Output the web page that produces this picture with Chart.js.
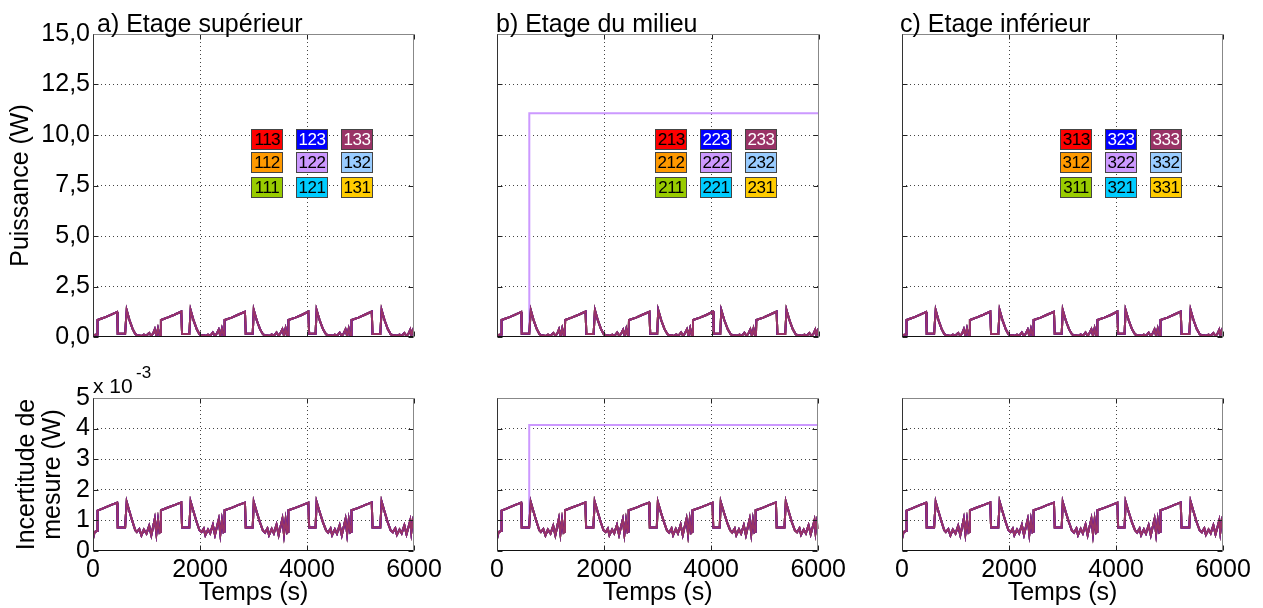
<!DOCTYPE html>
<html><head><meta charset="utf-8">
<script src="https://cdn.jsdelivr.net/npm/chart.js@4"></script>
<style>
body{margin:0;background:#fff;width:1263px;height:608px;position:relative;overflow:hidden;font-family:"Liberation Sans",Arial,sans-serif;}
canvas{position:absolute;}
.ttl{position:absolute;font-size:25px;line-height:25px;white-space:nowrap;color:#000;}
.box{position:absolute;width:30px;height:19px;border:1px solid #444;font-size:17px;line-height:19px;text-align:center;letter-spacing:-0.5px;}
.txt{position:absolute;white-space:nowrap;color:#000;}
</style></head>
<body>
<script>
// ---------- DATA ----------
const timeS = [0,30,75,85,200,320,450,462,600,630,680,740,790,820,865,905,950,1000,1050,1090,1125,1155,1185,1215,1245,1262,
1270,1400,1520,1650,1665,1800,1825,1880,1940,1990,2030,2070,2100,2150,2190,2240,2280,2320,2350,2380,2410,2440,2452,
2460,2590,2710,2840,2855,2985,3005,3060,3120,3175,3215,3260,3290,3340,3380,3430,3470,3510,3540,3570,3600,3630,3645,
3652,3780,3900,4025,4040,4160,4180,4235,4300,4355,4395,4440,4470,4520,4560,4610,4650,4690,4720,4750,4780,4810,4825,
4832,4960,5080,5210,5225,5370,5395,5450,5510,5565,5605,5650,5680,5730,5770,5820,5860,5900,5930,5950,5975,6000];
// Puissance (W)
const puissanceW = [0.04,0.10,0.12,0.84,0.95,1.08,1.24,0.16,0.16,1.32,0.85,0.40,0.15,0.10,0.08,0.05,0.12,0.07,0.20,0.06,0.18,0.38,0.05,0.42,0.08,0.10,
0.84,0.97,1.10,1.26,0.15,0.15,1.33,0.82,0.38,0.14,0.08,0.10,0.05,0.12,0.06,0.22,0.05,0.20,0.36,0.05,0.40,0.08,0.10,
0.84,0.96,1.10,1.25,0.16,0.16,1.33,0.83,0.40,0.14,0.07,0.10,0.05,0.13,0.06,0.22,0.05,0.22,0.38,0.06,0.43,0.08,0.10,
0.84,0.96,1.09,1.26,0.16,0.16,1.33,0.84,0.38,0.14,0.08,0.10,0.05,0.12,0.06,0.21,0.05,0.20,0.37,0.05,0.41,0.08,0.10,
0.84,0.96,1.10,1.26,0.15,0.15,1.33,0.83,0.39,0.14,0.08,0.10,0.05,0.12,0.06,0.20,0.05,0.18,0.36,0.08,0.30,0.10];
// Incertitude de mesure (x 10^-3 W)
const incertitudeMilliW = [0.40,0.62,0.65,1.32,1.40,1.49,1.58,0.77,0.77,1.60,1.30,0.95,0.68,0.62,0.72,0.51,0.70,0.57,0.82,0.52,0.80,1.05,0.57,1.02,0.60,0.62,
1.33,1.42,1.50,1.59,0.77,0.77,1.61,1.28,0.93,0.68,0.62,0.73,0.52,0.70,0.58,0.85,0.53,0.82,1.03,0.55,1.00,0.62,0.64,
1.33,1.41,1.50,1.58,0.77,0.77,1.60,1.27,0.94,0.67,0.60,0.74,0.52,0.72,0.58,0.86,0.52,0.83,1.05,0.55,1.02,0.60,0.63,
1.33,1.41,1.49,1.58,0.77,0.77,1.60,1.28,0.93,0.68,0.60,0.73,0.52,0.71,0.57,0.84,0.52,0.82,1.04,0.56,1.01,0.61,0.63,
1.33,1.41,1.50,1.59,0.77,0.77,1.61,1.28,0.93,0.67,0.61,0.74,0.53,0.70,0.58,0.84,0.55,0.80,1.00,0.62,0.95,0.72];
// Capteur 222 (étage du milieu) : saut à ~600 s
const time222 = [0,30,75,85,200,320,450,462,598,602,6000];
const puissance222 = [0.04,0.10,0.12,0.84,0.95,1.08,1.24,0.16,0.16,11.08,11.08];
const incertitude222 = [0.40,0.62,0.65,1.32,1.40,1.49,1.58,0.77,0.77,4.12,4.12];

const xTicks = [0,2000,4000,6000];
const xTickLabels = ['0','2000','4000','6000'];
const yTicksP = [0,2.5,5,7.5,10,12.5,15];
const yTickLabelsP = ['0,0','2,5','5,0','7,5','10,0','12,5','15,0'];
const yTicksI = [0,1,2,3,4,5];
const yTickLabelsI = ['0','1','2','3','4','5'];

const stages = ['1','2','3'];
const panelTitles = ['a) Etage supérieur','b) Etage du milieu','c) Etage inférieur'];
const seriesCodes = ['33','23','13','32','22','12','31','21','11']; // first drawn on top
const seriesColors = {'13':'#FF0000','23':'#0000FF','33':'#993366','12':'#FF9900','22':'#CC99FF','32':'#99CCFF','11':'#99CC00','21':'#00CCFF','31':'#FFCC00'};
const legendGrid = [['13','23','33'],['12','22','32'],['11','21','31']];
const whiteText = ['23','33'];

// ---------- LAYOUT ----------
const FONT = '"Liberation Sans", Arial, sans-serif';
Chart.defaults.font.family = FONT;
Chart.defaults.color = '#000';
const plotX = [[93,414],[497,819],[902,1223]];
const canvasX = [[0,460],[470,380],[880,383]];
const rows = [{cy:0,ch:360,top:34,bottom:337},{cy:350,ch:258,top:398,bottom:551}];

function pts(xs, ys){ return xs.map((x,i)=>({x:x,y:ys[i]})); }

const framePlugin = {
  id:'frame',
  afterDatasetsDraw(chart){
    const {ctx, chartArea:a, scales:{x,y}} = chart;
    const L = Math.round(a.left)+0.5, R = Math.round(a.right)-0.5, T = Math.round(a.top)+0.5, B = Math.round(a.bottom)-0.5;
    ctx.save();
    ctx.lineWidth = 1;
    ctx.strokeStyle = '#222';
    ctx.beginPath();
    x.ticks.forEach(t=>{ const p=Math.round(x.getPixelForValue(t.value))+0.5; ctx.moveTo(p,B); ctx.lineTo(p,B-5); ctx.moveTo(p,T); ctx.lineTo(p,T+5); });
    y.ticks.forEach(t=>{ const p=Math.round(y.getPixelForValue(t.value))+0.5; ctx.moveTo(L,p); ctx.lineTo(L+5,p); ctx.moveTo(R,p); ctx.lineTo(R-5,p); });
    ctx.stroke();
    ctx.strokeStyle = '#888';
    ctx.beginPath(); ctx.moveTo(L,T); ctx.lineTo(R,T); ctx.lineTo(R,B); ctx.stroke();
    ctx.strokeStyle = '#333';
    ctx.beginPath(); ctx.moveTo(L,T); ctx.lineTo(L,B); ctx.stroke();
    ctx.strokeStyle = '#111';
    ctx.beginPath(); ctx.moveTo(L,B); ctx.lineTo(R,B); ctx.stroke();
    ctx.restore();
  }
};

function gridColor(min,max){
  return c => (c.tick && (c.tick.value===min || c.tick.value===max)) ? 'rgba(0,0,0,0)' : '#444';
}

function makePanel(col,rowIdx){
  const row = rows[rowIdx];
  const [cx,cw] = canvasX[col];
  const [pl,pr] = plotX[col];
  const cv = document.createElement('canvas');
  cv.width = cw; cv.height = row.ch;
  cv.style.left = cx+'px'; cv.style.top = row.cy+'px';
  cv.style.width = cw+'px'; cv.style.height = row.ch+'px';
  document.body.appendChild(cv);
  const stage = stages[col];
  const isTop = rowIdx===0;
  const yTicks = isTop ? yTicksP : yTicksI;
  const yLabels = isTop ? yTickLabelsP : yTickLabelsI;
  const yMax = yTicks[yTicks.length-1];
  const datasets = seriesCodes.map(code=>{
    const name = stage+code;
    let data;
    if (name==='222') data = pts(time222, isTop ? puissance222 : incertitude222);
    else data = pts(timeS, isTop ? puissanceW : incertitudeMilliW);
    return {label:name, data, borderColor:seriesColors[code], backgroundColor:seriesColors[code],
      borderWidth:2, pointRadius:0, fill:false, tension:0};
  });
  const wy = pl - cx;
  const hx = row.cy + row.ch - row.bottom;
  new Chart(cv,{
    type:'line',
    data:{datasets},
    plugins:[framePlugin],
    options:{
      responsive:false, animation:false, devicePixelRatio:1,
      layout:{autoPadding:false, padding:{left:0, top:row.top-row.cy, right:cx+cw-pr, bottom:0}},
      plugins:{legend:{display:false}, tooltip:{enabled:false}, title:{display:false}},
      scales:{
        x:{type:'linear', min:0, max:6000,
          afterBuildTicks:s=>{ s.ticks = xTicks.map(v=>({value:v})); },
          afterFit:s=>{ s.height = hx; },
          ticks:{display:!isTop, autoSkip:false, maxRotation:0, padding:4, font:{size:25},
            callback:(v)=>xTickLabels[xTicks.indexOf(v)]},
          grid:{drawTicks:false, color:gridColor(0,6000), lineWidth:1},
          border:{display:false, dash:[1,3]},
          title:{display:!isTop, text:'Temps (s)', font:{size:25, lineHeight:1.2}, padding:{top:0,bottom:0}}
        },
        y:{type:'linear', min:0, max:yMax,
          afterBuildTicks:s=>{ s.ticks = yTicks.map(v=>({value:v})); },
          afterFit:s=>{ s.width = wy; },
          ticks:{display:col===0, autoSkip:false, padding:3, font:{size:25},
            callback:(v)=>yLabels[yTicks.indexOf(v)]},
          grid:{drawTicks:false, color:gridColor(0,yMax), lineWidth:1},
          border:{display:false, dash:[1,3]},
          title: col===0 ? (isTop
            ? {display:true, text:'Puissance (W)', font:{size:25, lineHeight:1.2}, padding:{top:6,bottom:0}}
            : {display:true, text:['Incertitude de','mesure (W)'], font:{size:25, lineHeight:1.04}, padding:{top:14,bottom:0}})
            : {display:false}
        }
      }
    }
  });
}

for (let r=0;r<2;r++) for (let c=0;c<3;c++) makePanel(c,r);

// Panel titles
const titleLeft = [97,496,900];
panelTitles.forEach((t,i)=>{
  const d=document.createElement('div'); d.className='ttl'; d.textContent=t;
  d.style.left=titleLeft[i]+'px'; d.style.top='11px'; document.body.appendChild(d);
});
// Sensor legend boxes
const rowTops = [129,152,177];
stages.forEach((s,col)=>{
  legendGrid.forEach((rowCodes,ri)=>{
    rowCodes.forEach((code,ci)=>{
      const b=document.createElement('div'); b.className='box';
      b.textContent = s+code;
      b.style.background = seriesColors[code];
      b.style.color = whiteText.includes(code) ? '#fff' : '#000';
      b.style.left = (plotX[col][0]+158+ci*45)+'px';
      b.style.top = rowTops[ri]+'px';
      document.body.appendChild(b);
    });
  });
});
// exponent label
const e1=document.createElement('div'); e1.className='txt'; e1.textContent='x 10';
e1.style.cssText+='left:93px;top:375px;font-size:21px;line-height:21px;'; document.body.appendChild(e1);
const e2=document.createElement('div'); e2.className='txt'; e2.textContent='-3';
e2.style.cssText+='left:136px;top:364px;font-size:17px;line-height:17px;'; document.body.appendChild(e2);
</script>
</body></html>
